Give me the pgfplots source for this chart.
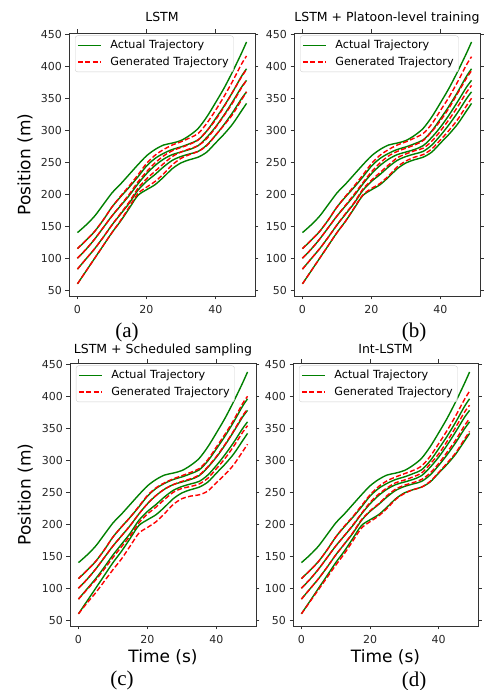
\documentclass[border=0pt]{standalone}
\usepackage{fontspec}
\setmainfont{DejaVu Sans}
\newfontfamily\capfont{Liberation Serif}
\usepackage{pgfplots}
\usepackage{pgfplotstable}
\pgfplotsset{compat=1.18}
\definecolor{mplgreen}{RGB}{0,128,0}
\definecolor{mplred}{RGB}{255,0,0}

% actual trajectories (same in every panel)
\pgfplotstableread{
t g1 g2 g3 g4 g5
0 140 115 100 83 60
2.5 152 128 114 99 80
5 166 142 130 115 100
7.5 184 160 148 133 120
10 202 180 166 152 140
12.5 216 196 182 169 158
15 231 211 198 186 178
17.5 246 227 216 206 198
20 260 244 232 220 207
22.5 270 256 245 231 215
25 277 264 255 243 227
27.5 280 270 262 253 240
30 284 274 266 259 249
32.5 292 279 270 263 254
35 303 285 276 267 258
37.5 321 299 289 277 266
40 343 318 305 292 280
42.5 366 338 324 309 294
45 392 360 345 328 310
47.5 420 384 367 349 330
49 438 396 378 360 342
}\actual

% generated: LSTM
\pgfplotstableread{
t r2 r3 r4 r5
0 115 100 83 60
2.5 128 114 99 80
5 142 130 115 100
7.5 160 148 133 120
10 180 166 152 140
12.5 197 183 170 159
15 213 200 188 180
17.5 230 219 209 201
20 248 235 224 211
22.5 261 249 236 220
25 270 260 248 232
27.5 277 268 259 246
30 282 273 266 256
32.5 288 278 271 262
35 295 285 276 267
37.5 311 299 287 276
40 331 316 304 292
42.5 353 337 323 308
45 377 360 343 325
47.5 403 383 366 347
49 416 395 378 360
}\genA

% generated: LSTM + platoon-level training
\pgfplotstableread{
t r2 r3 r4 r5
0 115 100 83 60
2.5 128 114 99 80
5 142 130 115 100
7.5 160 148 133 120
10 180 166 152 140
12.5 197 183 170 158
15 213 200 187 179
17.5 230 218 208 199
20 248 235 222 209
22.5 261 249 234 217
25 270 260 246 229
27.5 277 267 257 243
30 282 272 263 252
32.5 288 277 268 258
35 295 284 272 262
37.5 310 298 283 271
40 331 315 299 285
42.5 352 335 317 300
45 376 358 337 317
47.5 402 381 359 338
49 415 393 370 350
}\genB

% generated: LSTM + scheduled sampling
\pgfplotstableread{
t r2 r3 r4 r5
0 115 100 83 60
2.5 128 114 98 77
5 142 130 113 93
7.5 160 148 130 111
10 180 166 148 129
12.5 196 182 165 146
15 211 198 182 166
17.5 228 216 202 186
20 245 232 216 195
22.5 257 245 227 204
25 265 255 239 217
27.5 271 262 250 231
30 276 267 256 240
32.5 281 271 259 244
35 287 277 263 246
37.5 301 290 272 252
40 321 306 287 265
42.5 341 325 303 278
45 363 346 322 293
47.5 388 369 343 313
49 400 380 354 325
}\genC

% generated: Int-LSTM
\pgfplotstableread{
t r2 r3 r4 r5
0 115 100 83 60
2.5 128 114 99 79
5 142 130 115 98
7.5 160 148 133 117
10 180 166 152 136
12.5 197 182 169 154
15 212 199 187 174
17.5 229 217 207 194
20 246 234 221 204
22.5 259 247 232 213
25 268 257 245 225
27.5 274 265 255 239
30 279 269 261 248
32.5 284 274 265 254
35 291 280 270 258
37.5 306 294 280 267
40 326 310 295 281
42.5 347 330 313 296
45 370 352 332 312
47.5 395 375 354 333
49 408 386 365 345
}\genD

\pgfplotsset{
  traj/.style={
    scale only axis, width=186pt, height=263pt,
    xmin=-2.45, xmax=51.45, ymin=41, ymax=452,
    xtick={0,20,40}, ytick={50,100,...,450},
    tick align=outside, major tick length=3.5pt,
    axis line style={black!80, line width=0.8pt},
    tick style={black!80, line width=0.8pt},
    every tick label/.append style={font=\fontsize{11}{11}\selectfont, text=black!85},
    xticklabel style={yshift=-2.5pt},
    /pgf/number format/assume math mode=true,
    title style={font=\fontsize{12.5}{12.5}\selectfont, at={(0.5,1)}, anchor=base, yshift=5pt},
    label style={font=\fontsize{17}{17}\selectfont},
    legend style={at={(0,1)}, anchor=north west, xshift=6pt, yshift=-2.5pt,
      draw=black!18, rounded corners=2.5pt, fill=white, fill opacity=0.8, text opacity=1,
      font=\fontsize{11.2}{11.2}\selectfont, inner xsep=2pt, inner ysep=1.5pt,
      nodes={inner sep=2.8pt, text height=8.5pt, text depth=2.5pt}, row sep=0pt},
    legend cell align=left,
    legend image code/.code={\draw[#1, line width=1.4pt] (0pt,0pt) -- (23pt,0pt); \path (29pt,0pt);},
  },
  act/.style={mplgreen, line width=1.4pt, smooth},
  gen/.style={mplred, line width=1.4pt, dash pattern=on 5pt off 2.4pt, smooth},
}
\tikzset{subcap/.style={font=\capfont\fontsize{21}{21}\selectfont, inner sep=0pt}}

\newcommand{\trajplots}[1]{%
  \addplot[act] table[x=t,y=g1] {\actual};
  \addplot[act, forget plot] table[x=t,y=g2] {\actual};
  \addplot[act, forget plot] table[x=t,y=g3] {\actual};
  \addplot[act, forget plot] table[x=t,y=g4] {\actual};
  \addplot[act, forget plot] table[x=t,y=g5] {\actual};
  \addplot[gen] table[x=t,y=r2] {#1};
  \addplot[gen, forget plot] table[x=t,y=r3] {#1};
  \addplot[gen, forget plot] table[x=t,y=r4] {#1};
  \addplot[gen, forget plot] table[x=t,y=r5] {#1};
  \legend{Actual Trajectory, Generated Trajectory}
}

\begin{document}
\begin{tikzpicture}
\path[use as bounding box] (0,0) rectangle (491pt,690pt);

\begin{axis}[traj, at={(69pt,394pt)}, anchor=south west, title={LSTM},
  ylabel={Position (m)}, ylabel style={at={(axis description cs:-0.237,0.5)}, anchor=center}]
\trajplots{\genA}
\end{axis}

\begin{axis}[traj, at={(294pt,394pt)}, anchor=south west, title={LSTM + Platoon-level training}]
\trajplots{\genB}
\end{axis}

\begin{axis}[traj, at={(70pt,64pt)}, anchor=south west, title={LSTM + Scheduled sampling},
  title style={yshift=-2pt},
  ylabel={Position (m)}, ylabel style={at={(axis description cs:-0.24,0.5)}, anchor=center},
  xlabel={Time (s)}, xlabel style={at={(axis description cs:0.5,-0.118)}, anchor=center}]
\trajplots{\genC}
\end{axis}

\begin{axis}[traj, at={(293pt,64pt)}, anchor=south west, width=185pt, title={Int-LSTM},
  title style={yshift=-2pt},
  xlabel={Time (s)}, xlabel style={at={(axis description cs:0.5,-0.118)}, anchor=center}]
\trajplots{\genD}
\end{axis}

\node[subcap] at (127pt,358pt) {(a)};
\node[subcap] at (414pt,358pt) {(b)};
\node[subcap] at (122pt,10pt) {(c)};
\node[subcap] at (414pt,9pt) {(d)};
\end{tikzpicture}
\end{document}
